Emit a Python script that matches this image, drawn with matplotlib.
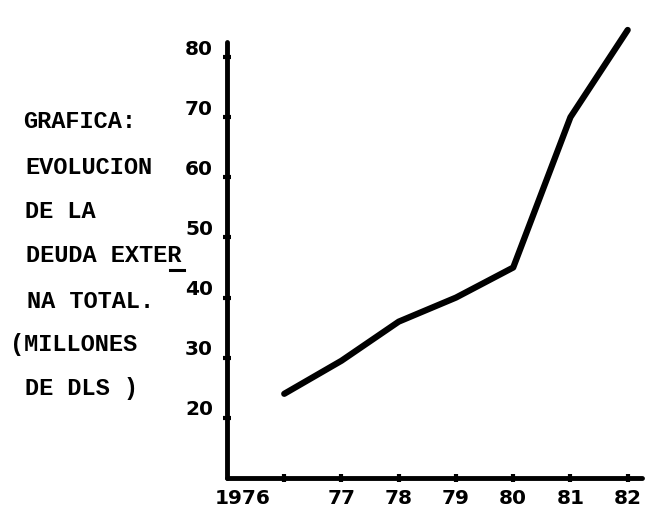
import matplotlib
matplotlib.use("Agg")
import matplotlib.pyplot as plt
import matplotlib.transforms as mtransforms
from matplotlib.lines import Line2D

years = [1976, 1977, 1978, 1979, 1980, 1981, 1982]
deuda = [24, 29.5, 36, 40, 45, 70, 84.5]
x_tick_labels = ["1976", "77", "78", "79", "80", "81", "82"]
y_ticks = [20, 30, 40, 50, 60, 70, 80]
title_lines = ["GRAFICA:", "EVOLUCION", "DE LA", "DEUDA EXTER", "NA TOTAL.", "(MILLONES", "DE DLS )"]

W, H = 651, 511
fig = plt.figure(figsize=(W/100, H/100), dpi=100)
ax = fig.add_axes([227/W, 1-478/H, 415/W, 436/H])
ax.set_xlim(1975, 1982.25)
ax.set_ylim(10, 82.5)

ax.plot(years, deuda, color="black", lw=4.5, solid_capstyle="round",
        solid_joinstyle="round", clip_on=False)

for s in ["top", "right"]:
    ax.spines[s].set_visible(False)
for s in ["left", "bottom"]:
    ax.spines[s].set_linewidth(3.5)
    ax.spines[s].set_capstyle("round")

tick_font = dict(family="DejaVu Sans", weight="bold", size=14.5)
ax.set_yticks(y_ticks)
ax.set_yticklabels([str(v) for v in y_ticks], **tick_font)
ax.set_yticks([], minor=True)
# tick dots at every year; the "1976" label sits near the origin
ax.set_xticks(years)
ax.set_xticklabels([""] + x_tick_labels[1:], **tick_font)
ax.set_xticks([ax.get_xlim()[0] + 0.28], minor=True)
ax.set_xticklabels(x_tick_labels[:1], minor=True, **tick_font)
ax.tick_params(axis="both", which="major", direction="inout", length=6, width=3, pad=5)
ax.tick_params(axis="x", which="minor", length=0, pad=8)
ax.tick_params(axis="y", which="major", pad=7)

off = mtransforms.ScaledTranslation(0, 10/100, fig.dpi_scale_trans)
for lab in ax.get_yticklabels():
    lab.set_transform(lab.get_transform() + off)

mono = dict(family="Liberation Mono", weight="bold", size=17)
ys = [122, 167, 211, 256, 301, 344, 388]
xs = [23, 25, 25, 26, 27, 10, 25]
for t, x, y in zip(title_lines, xs, ys):
    fig.text(x/W, 1-y/H, t, ha="left", va="center", **mono)
# underline under the final R of "EXTER"
fig.add_artist(Line2D([170/W, 184/W], [1-270/H, 1-270/H], color="black", lw=2.2,
                      transform=fig.transFigure))

fig.savefig("out.png", dpi=100)
